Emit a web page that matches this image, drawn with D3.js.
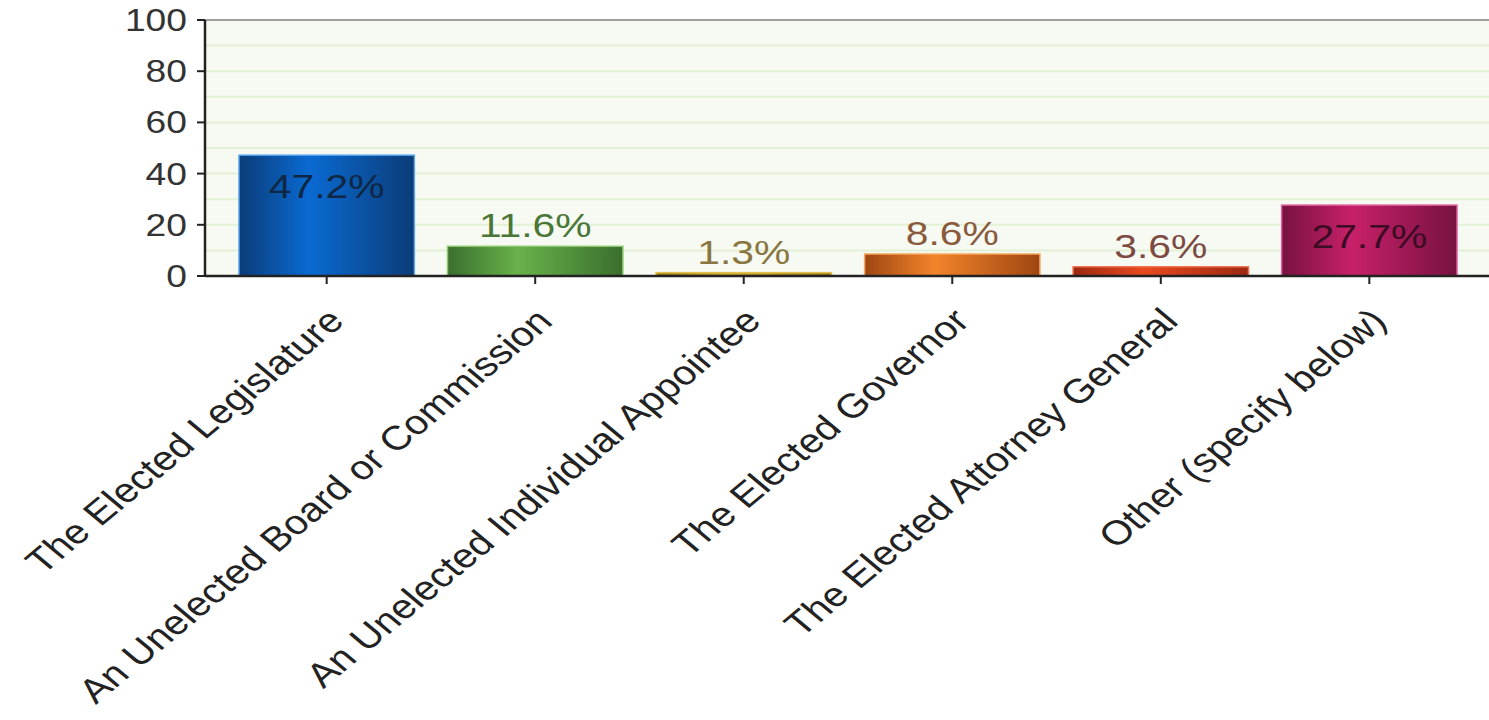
<!DOCTYPE html>
<html><head><meta charset="utf-8">
<script src="https://cdn.jsdelivr.net/npm/d3@7"></script>
<style>body{margin:0;background:#fff}svg{display:block}</style>
</head><body>
<svg id="c" width="1489" height="720"></svg>
<script>
const categories = ["The Elected Legislature","An Unelected Board or Commission","An Unelected Individual Appointee","The Elected Governor","The Elected Attorney General","Other (specify below)"];
const values = [47.2, 11.6, 1.3, 8.6, 3.6, 27.7];
const valueLabels = ["47.2%","11.6%","1.3%","8.6%","3.6%","27.7%"];
const yTicks = [0,20,40,60,80,100];
const barEdge = ["#0b3c78","#3a6e2e","#9a7810","#9e4612","#9c2810","#761240"];
const barMid  = ["#0a6ad2","#68b24a","#d2aa28","#f2842a","#e84a20","#c8206a"];
const barStroke=["#5aa4ea","#8cc870","#e0c050","#f8a860","#f07050","#e060a0"];
const labelColors=["#0f2744","#4a7638","#8a7640","#8a5a3c","#7c4a42","#3c0c24"];

const svg = d3.select("#c");
const L=205, R=1491, T=20, B=276, SX=1.2;
const x = d3.scaleBand().domain(categories).range([L,R]).paddingInner(0.159).paddingOuter(0.163);
const y = d3.scaleLinear().domain([0,100]).range([B,T]);

const defs = svg.append("defs");
categories.forEach((c,i)=>{
  const g = defs.append("linearGradient").attr("id","g"+i).attr("x1","0").attr("x2","1").attr("y1","0").attr("y2","0");
  g.append("stop").attr("offset","0%").attr("stop-color",barEdge[i]);
  g.append("stop").attr("offset","40%").attr("stop-color",barMid[i]);
  g.append("stop").attr("offset","100%").attr("stop-color",barEdge[i]);
});

// plot background
svg.append("rect").attr("x",L).attr("y",T).attr("width",R-L).attr("height",B-T).attr("fill","#f7faf2");
// grid every 10
svg.append("g").selectAll("line").data(d3.range(10,100,10)).join("line")
  .attr("x1",L).attr("x2",R).attr("y1",d=>y(d)).attr("y2",d=>y(d))
  .attr("stroke","#e2f0d4").attr("stroke-width",2);
// top border
svg.append("line").attr("x1",L).attr("x2",R).attr("y1",T).attr("y2",T).attr("stroke","#a0a0a0").attr("stroke-width",2);

// bars
svg.append("g").selectAll("rect").data(values).join("rect")
  .attr("x",(d,i)=>x(categories[i])).attr("width",x.bandwidth())
  .attr("y",d=>y(d)).attr("height",d=>B-y(d))
  .attr("fill",(d,i)=>`url(#g${i})`).attr("stroke",(d,i)=>barStroke[i]).attr("stroke-width",1.5);

// value labels
svg.append("g").selectAll("text").data(values).join("text")
  .attr("transform",(d,i)=>{
    const cx = x(categories[i])+x.bandwidth()/2;
    const by = d>20 ? y(d)+43 : y(d)-9;
    return `translate(${cx},${by}) scale(${SX},1)`;
  })
  .attr("text-anchor","middle").attr("font-family","Liberation Sans, Arial, sans-serif")
  .attr("font-size",34).attr("fill",(d,i)=>labelColors[i]).text((d,i)=>valueLabels[i]);

// y axis
const ya = svg.append("g");
ya.append("line").attr("x1",L).attr("x2",L).attr("y1",T).attr("y2",B+1).attr("stroke","#222").attr("stroke-width",2.5);
ya.selectAll("line.t").data(yTicks).join("line").attr("class","t")
  .attr("x1",L-8).attr("x2",L).attr("y1",d=>y(d)).attr("y2",d=>y(d)).attr("stroke","#222").attr("stroke-width",2);
ya.selectAll("text").data(yTicks).join("text")
  .attr("transform",d=>`translate(${L-18},${y(d)+11}) scale(${SX},1)`)
  .attr("text-anchor","end").attr("font-family","Liberation Sans, Arial, sans-serif")
  .attr("font-size",31).attr("fill","#333").text(d=>d);

// x axis
const xa = svg.append("g");
xa.append("line").attr("x1",L).attr("x2",R).attr("y1",B).attr("y2",B).attr("stroke","#222").attr("stroke-width",2.5);
xa.selectAll("line.t").data(categories).join("line").attr("class","t")
  .attr("x1",d=>x(d)+x.bandwidth()/2).attr("x2",d=>x(d)+x.bandwidth()/2)
  .attr("y1",B).attr("y2",B+8).attr("stroke","#222").attr("stroke-width",2);
xa.selectAll("text").data(categories).join("text")
  .attr("transform",d=>`translate(${x(d)+x.bandwidth()/2+19},${323}) scale(${SX},1) rotate(-45)`)
  .attr("text-anchor","end").attr("font-family","Liberation Sans, Arial, sans-serif")
  .attr("font-size",34).attr("fill","#222").text(d=>d);
</script>
</body></html>
